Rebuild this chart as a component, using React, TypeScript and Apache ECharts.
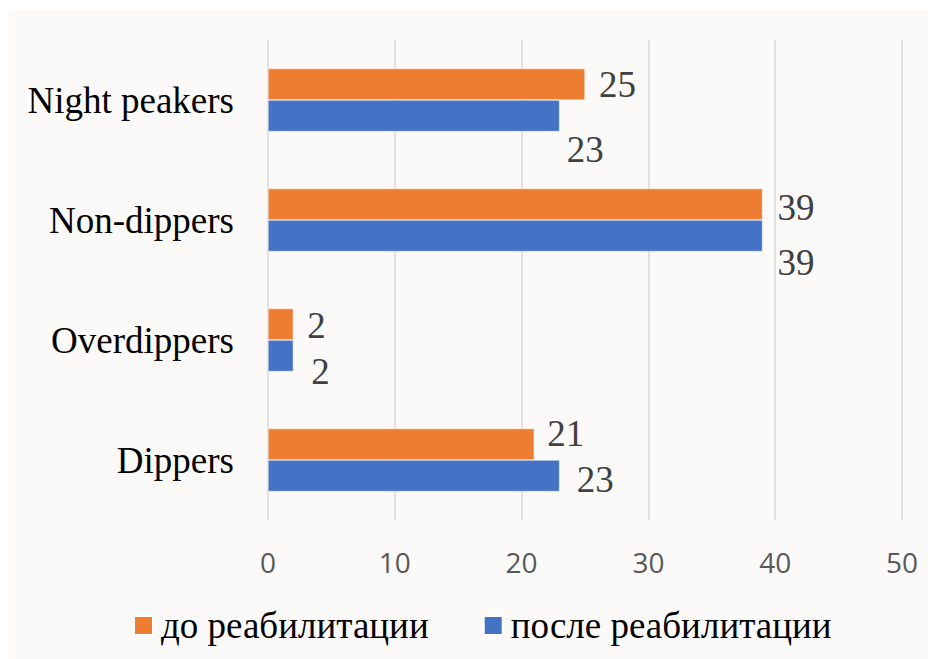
import React, { useEffect, useRef } from "react";
import * as echarts from "echarts";

const categories = ["Dippers", "Overdippers", "Non-dippers", "Night peakers"];
const seriesNames = ["до реабилитации", "после реабилитации"];
const before = [21, 2, 39, 25];
const after = [23, 2, 39, 23];
const xTicks = { min: 0, max: 50, interval: 10 };

// manual label nudges [dx, dy] per category (bottom → top), mirroring the hand-placed labels
const beforeLabelOffsets = [[-1, -11], [0, 1], [1, 3], [0, 0]];
const afterLabelOffsets = [[3, 4], [4, 16], [1, 27], [-7, 34]];

const SERIF = "Liberation Serif";
const SANS = "Open Sans";

export default function App() {
  const ref = useRef<HTMLDivElement>(null);
  useEffect(() => {
    if (!ref.current) return;
    const chart = echarts.init(ref.current, undefined, { renderer: "svg" });
    const mk = (vals: number[], offs: number[][]) =>
      vals.map((v, i) => ({
        value: v,
        label: { offset: offs[i] },
      }));
    const labelStyle = {
      show: true,
      position: "right",
      distance: 14,
      fontFamily: SERIF,
      fontSize: 37,
      color: "#404040",
    };
    chart.setOption({
      animation: false,
      backgroundColor: "#FBFAF8",
      graphic: [
        { type: "rect", shape: { x: 0, y: 0, width: 928, height: 10 }, style: { fill: "#FFFFFF" }, silent: true },
        { type: "rect", shape: { x: 0, y: 0, width: 9, height: 659 }, style: { fill: "#FFFFFF" }, silent: true },
      ],
      grid: { left: 268, right: 26, top: 40, bottom: 139, containLabel: false },
      legend: {
        data: seriesNames,
        left: 133,
        top: 605,
        padding: 0,
        icon: "rect",
        itemWidth: 19,
        itemHeight: 19,
        itemGap: 54,
        textStyle: {
          fontFamily: SERIF,
          fontSize: 37,
          color: "#000000",
          lineHeight: 41,
          padding: [0, 0, 0, 3],
        },
      },
      xAxis: {
        type: "value",
        min: xTicks.min,
        max: xTicks.max,
        interval: xTicks.interval,
        axisLine: { show: false },
        axisTick: { show: false },
        splitLine: { show: true, lineStyle: { color: "#D9D9D9", width: 1.5 } },
        axisLabel: { fontFamily: SANS, fontSize: 28, color: "#595959", margin: 28 },
      },
      yAxis: {
        type: "category",
        data: categories,
        axisLine: { show: false },
        axisTick: { show: false },
        axisLabel: { fontFamily: SERIF, fontSize: 37, color: "#000000", margin: 34 },
      },
      series: [
        {
          name: seriesNames[0],
          type: "bar",
          data: mk(before, beforeLabelOffsets),
          itemStyle: { color: "#ED7D31", borderColor: "#FFFFFF", borderWidth: 0.5 },
          barWidth: 31.5,
          barGap: "0%",
          label: labelStyle,
        },
        {
          name: seriesNames[1],
          type: "bar",
          data: mk(after, afterLabelOffsets),
          itemStyle: { color: "#4472C4", borderColor: "#FFFFFF", borderWidth: 0.5 },
          barWidth: 31.5,
          barGap: "0%",
          label: labelStyle,
        },
      ],
    });
    return () => chart.dispose();
  }, []);
  return (
    <div
      ref={ref}
      style={{ position: "absolute", left: 0, top: 0, width: 928, height: 659 }}
    />
  );
}
